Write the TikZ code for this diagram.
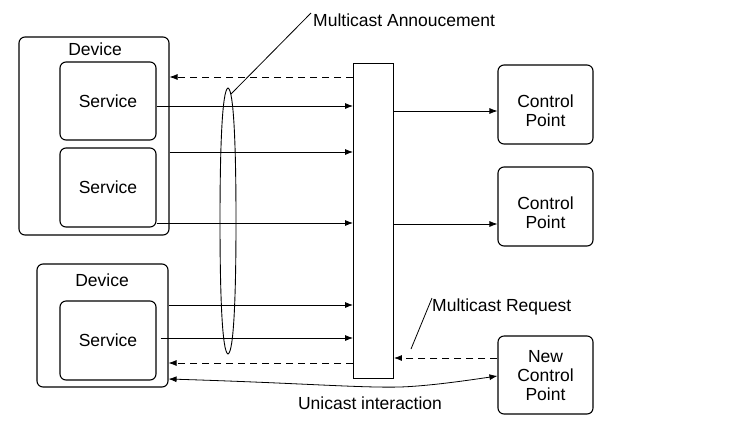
\documentclass[tikz,border=0pt]{standalone}
\usepackage{fontspec}
\setmainfont{Liberation Sans}
\usetikzlibrary{arrows.meta}
\begin{document}
\begin{tikzpicture}[x=1pt,y=-1pt,
  every node/.style={font=\fontsize{17.5}{19}\selectfont},
  box/.style={draw,line width=1.1pt,rounded corners=6pt,inner sep=0pt},
  arr/.style={line width=0.8pt,-{Latex[length=8pt,width=6pt]}},
  dsh/.style={arr,dash pattern=on 7pt off 5pt},
  lbl/.style={inner sep=0pt,align=center}]
\useasboundingbox (0,0) rectangle (743,445);
% devices and services
\node[box,minimum width=150,minimum height=198] (dev1) at (94,136) {};
\node[lbl] (dev1t) at (95,49) {Device};
\node[box,minimum width=96,minimum height=78,align=center] (s1) at (108,101) {Service};
\node[box,minimum width=96,minimum height=79,align=center] (s2) at (108,187.5) {Service};
\node[box,minimum width=131,minimum height=123] (dev2) at (102.5,325.5) {};
\node[lbl] (dev2t) at (102,280) {Device};
\node[box,minimum width=96,minimum height=79,align=center] (s3) at (108,340.5) {Service};
% hub
\node[draw,line width=0.9pt,minimum width=40,minimum height=315,inner sep=0pt] (hub) at (373.5,220.5) {};
% control points
\node[box,minimum width=95,minimum height=79] (cp1) at (545.5,104.5) {};
\node[lbl] (cp1t) at (545.5,111) {Control\\Point};
\node[box,minimum width=95,minimum height=79] (cp2) at (545.5,206.5) {};
\node[lbl] (cp2t) at (545.5,213) {Control\\Point};
\node[box,minimum width=95,minimum height=78] (ncp) at (545.5,375) {};
\node[lbl] (ncpt) at (545.5,376) {New\\Control\\Point};
% lens-shaped grouping
\draw[line width=0.9pt] (228,88) .. controls (234,90) and (236,150) .. (236,221)
  .. controls (236,292) and (234,352) .. (228,354)
  .. controls (222,352) and (220,292) .. (220,221)
  .. controls (220,150) and (222,90) .. (228,88) -- cycle;
% labels
\node[lbl,anchor=west] (ann) at (313,20) {Multicast Annoucement};
\node[lbl,anchor=west] (mreq) at (432,307) {Multicast Request};
\node[lbl] (uni) at (370,403) {Unicast interaction};
\coordinate (ellp) at (231,94);
\coordinate (mreqp) at (411,349);
% connectors
\draw[dsh] (hub.west |- 0,77) -- (dev1.east |- 0,77);
\draw[arr] (s1.east |- 0,106) -- (hub.west |- 0,106);
\draw[arr] (dev1.east |- 0,152) -- (hub.west |- 0,152);
\draw[arr] (s2.east |- 0,223) -- (hub.west |- 0,223);
\draw[arr] (dev2.east |- 0,305) -- (hub.west |- 0,305);
\draw[arr] ([xshift=4pt]s3.east |- 0,338) -- (hub.west |- 0,338);
\draw[dsh] (hub.west |- 0,363) -- (dev2.east |- 0,363);
\draw[arr] (hub.east |- 0,111) -- (cp1.west |- 0,111);
\draw[arr] (hub.east |- 0,224) -- (cp2.west |- 0,224);
\draw[dsh] (ncp.west |- 0,358) -- (hub.east |- 0,358);
\draw[line width=0.8pt,{Latex[length=8pt,width=6pt]}-{Latex[length=8pt,width=6pt]}]
  (dev2.east |- 0,379) .. controls (300,383) and (360,388) .. (400,387)
  .. controls (430,386) and (470,380) .. (ncp.west |- 0,376);
\draw[line width=0.8pt] ([xshift=-2pt,yshift=7pt]ann.west) -- (ellp);
\draw[line width=0.8pt] ([yshift=9pt]mreq.west) -- (mreqp);
\end{tikzpicture}
\end{document}
